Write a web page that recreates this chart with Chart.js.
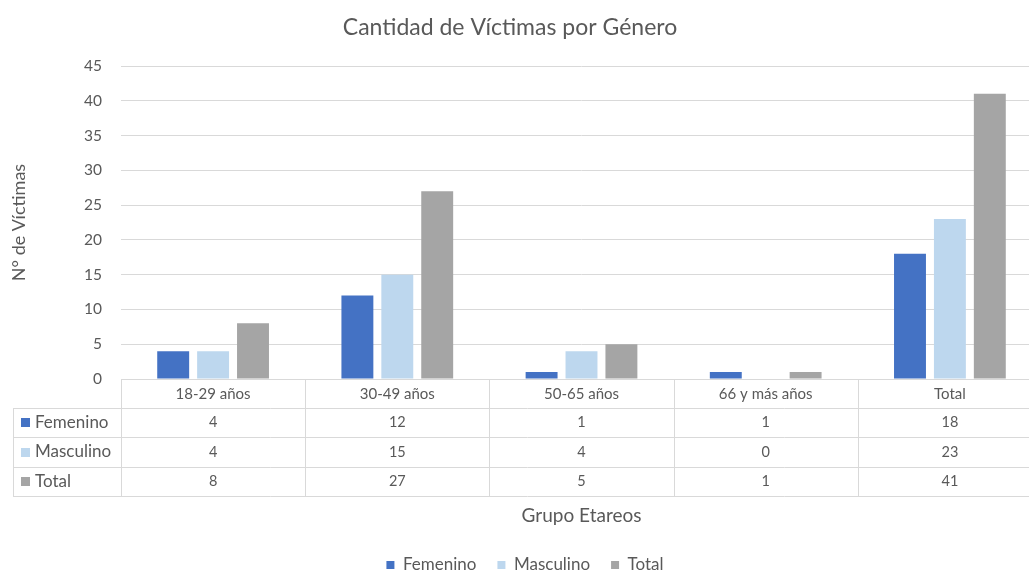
<!DOCTYPE html>
<html>
<head>
<meta charset="utf-8">
<script src="https://cdn.jsdelivr.net/npm/chart.js@4.4.1/dist/chart.umd.min.js"></script>
<style>
    html, body { margin: 0; padding: 0; background: #fff; overflow: hidden; }
    #wrap { width: 1042px; height: 573px; }
</style>
</head>
<body>
<div id="wrap"><canvas id="grafico" width="1042" height="573"></canvas></div>
<script>
const categorias = ['18-29 años', '30-49 años', '50-65 años', '66 y más años', 'Total'];
const femenino = [4, 12, 1, 1, 18];
const masculino = [4, 15, 4, 0, 23];
const total = [8, 27, 5, 1, 41];
const ticksY = [0, 5, 10, 15, 20, 25, 30, 35, 40, 45];

const FUENTE = 'Lato, "Open Sans", sans-serif';
const GRIS_TEXTO = '#595959';
const GRIS_LINEA = '#D9D9D9';

// tabla de datos bajo el eje x (estilo Excel)
const tablaDatos = {
    id: 'tablaDatos',
    afterLayout(chart) {
        // la imagen original esta recortada a la derecha: recolocar titulo y leyenda
        if (chart.titleBlock) { chart.titleBlock.left -= 11; chart.titleBlock.right -= 11; }
        if (chart.legend) { chart.legend.left += 4; chart.legend.right += 4; }
    },
    afterDraw(chart) {
        const ctx = chart.ctx;
        const x = chart.scales.x;
        const area = chart.chartArea;
        const filaH = 29.2;
        const y0 = area.bottom;
        const izq = 13;
        const ancho = x.getPixelForValue(1) - x.getPixelForValue(0);
        ctx.save();
        ctx.strokeStyle = GRIS_LINEA;
        ctx.lineWidth = 1;
        // lineas horizontales
        for (let k = 1; k <= 4; k++) {
            const y = Math.round(y0 + filaH * k) + 0.5;
            ctx.beginPath(); ctx.moveTo(izq, y); ctx.lineTo(area.right, y); ctx.stroke();
        }
        const yFin = Math.round(y0 + filaH * 4) + 0.5;
        // lineas verticales
        for (let i = 0; i <= categorias.length; i++) {
            const xv = Math.round(x.getPixelForValue(i) - ancho / 2) + 0.5;
            ctx.beginPath(); ctx.moveTo(xv, y0); ctx.lineTo(xv, yFin); ctx.stroke();
        }
        ctx.beginPath(); ctx.moveTo(izq + 0.5, Math.round(y0 + filaH) + 0.5); ctx.lineTo(izq + 0.5, yFin); ctx.stroke();

        // filas
        ctx.textBaseline = 'middle';
        chart.data.datasets.forEach((ds, r) => {
            const yc = y0 + filaH * (r + 1.5);
            ctx.fillStyle = ds.backgroundColor;
            ctx.fillRect(21, Math.round(yc - 4.5), 9, 9);
            ctx.fillStyle = GRIS_TEXTO;
            ctx.textAlign = 'left';
            ctx.font = '17px ' + FUENTE;
            ctx.fillText(ds.label, 35, yc);
            ctx.textAlign = 'center';
            ctx.font = '14.5px ' + FUENTE;
            ds.data.forEach((v, i) => {
                ctx.fillText(String(v), x.getPixelForValue(i), yc);
            });
        });
        ctx.restore();
    }
};

const ctx = document.getElementById('grafico').getContext('2d');
new Chart(ctx, {
    type: 'bar',
    data: {
        labels: categorias,
        datasets: [
            { label: 'Femenino', data: femenino, backgroundColor: '#4472C4' },
            { label: 'Masculino', data: masculino, backgroundColor: '#BDD7EE' },
            { label: 'Total', data: total, backgroundColor: '#A5A5A5' }
        ]
    },
    options: {
        responsive: false,
        animation: false,
        datasets: {
            bar: { categoryPercentage: 0.65, barPercentage: 0.8 }
        },
        layout: {
            padding: { left: 0, right: 0, top: 0, bottom: -10.5 }
        },
        scales: {
            x: {
                grid: { display: false },
                border: { display: true, color: GRIS_LINEA },
                ticks: {
                    color: GRIS_TEXTO,
                    font: { family: FUENTE, size: 15 },
                    padding: -2,
                    maxRotation: 0,
                    autoSkip: false
                },
                title: {
                    display: true,
                    text: 'Grupo Etareos',
                    color: GRIS_TEXTO,
                    font: { family: FUENTE, size: 19 },
                    padding: { top: 0, bottom: 8 }
                },
                afterFit(scale) { scale.height = 156.5; }
            },
            y: {
                min: 0,
                max: 45,
                afterBuildTicks(scale) { scale.ticks = ticksY.map(v => ({ value: v })); },
                grid: { color: GRIS_LINEA, drawTicks: false },
                border: { display: false },
                ticks: {
                    color: GRIS_TEXTO,
                    font: { family: FUENTE, size: 15.5 },
                    padding: 19
                },
                title: {
                    display: true,
                    text: 'N° de Víctimas',
                    color: GRIS_TEXTO,
                    font: { family: FUENTE, size: 18 },
                    padding: { top: 8, bottom: 0 }
                },
                afterFit(scale) { scale.width = 121; }
            }
        },
        plugins: {
            title: {
                display: true,
                text: 'Cantidad de Víctimas por Género',
                color: GRIS_TEXTO,
                font: { family: FUENTE, size: 23, weight: 'normal' },
                padding: { top: 14.2, bottom: 24.2 }
            },
            legend: {
                position: 'bottom',
                labels: {
                    color: GRIS_TEXTO,
                    font: { family: FUENTE, size: 17 },
                    boxWidth: 8,
                    boxHeight: 8,
                    padding: 21
                }
            },
            tooltip: { enabled: false }
        }
    },
    plugins: [tablaDatos]
});
</script>
</body>
</html>
